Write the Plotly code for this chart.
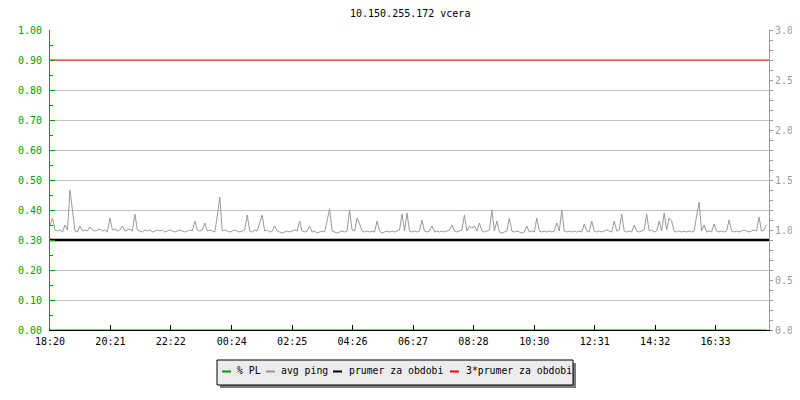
import plotly.graph_objects as go
import pandas as pd

# ---------------- data ----------------
title_text = "10.150.255.172 vcera"
start_time = "2024-01-01 18:20"
sample_minutes = 5
period_minutes = 1440

tick_labels = ["18:20", "20:21", "22:22", "00:24", "02:25", "04:26",
               "06:27", "08:28", "10:30", "12:31", "14:32", "16:33"]

# avg ping (ms), one value every 5 minutes
avg_ping = [
    # 18:20 - 20:15
    1.05, 1.12, 1.00, 0.99, 1.00, 0.98, 1.05, 1.00, 1.40, 1.18, 0.99, 0.98,
    1.04, 0.99, 1.00, 0.99, 1.03, 1.00, 0.99, 1.00, 1.01, 0.99, 1.00, 0.98,
    # 20:20 - 22:15
    1.12, 1.00, 1.01, 0.99, 1.00, 1.04, 0.99, 1.00, 1.01, 0.99, 1.16, 1.00,
    0.99, 0.98, 1.00, 0.99, 1.00, 0.98, 0.99, 1.00, 0.99, 1.00, 0.98, 0.99,
    # 22:20 - 00:15
    1.00, 0.99, 0.98, 0.99, 1.00, 0.99, 0.98, 0.99, 1.00, 0.99, 1.09, 1.00,
    0.99, 1.00, 1.07, 0.99, 1.00, 0.99, 0.98, 1.14, 1.33, 0.99, 1.00, 0.99,
    # 00:20 - 02:15
    0.98, 0.99, 1.00, 0.99, 0.98, 0.99, 1.00, 1.15, 0.99, 0.98, 1.00, 0.99,
    1.06, 1.15, 0.99, 1.00, 0.98, 0.99, 1.04, 0.99, 0.98, 0.97, 0.98, 0.99,
    # 02:20 - 04:15
    0.98, 0.99, 1.00, 0.99, 1.09, 0.99, 0.98, 0.99, 1.04, 0.98, 0.99, 0.97,
    0.98, 0.99, 0.98, 1.09, 1.21, 0.99, 0.98, 0.97, 0.98, 0.99, 0.98, 0.99,
    # 04:20 - 06:15
    1.20, 1.00, 0.99, 1.12, 1.06, 0.99, 0.98, 0.99, 0.98, 0.99, 0.98, 1.09,
    0.99, 0.97, 0.98, 0.99, 0.98, 0.99, 0.98, 0.99, 1.00, 1.16, 0.99, 1.17,
    # 06:20 - 08:15
    0.99, 0.98, 0.99, 0.98, 0.99, 1.10, 0.99, 0.98, 0.99, 1.04, 0.98, 0.99,
    0.98, 0.99, 0.98, 0.99, 1.00, 1.05, 0.99, 0.98, 0.99, 1.00, 1.15, 0.99,
    # 08:20 - 10:15
    1.04, 1.02, 1.04, 0.99, 1.07, 0.99, 0.98, 0.99, 1.00, 1.20, 0.99, 1.09,
    0.98, 0.97, 0.98, 0.99, 1.12, 0.99, 0.98, 0.99, 0.98, 0.97, 0.98, 1.04,
    # 10:20 - 12:15
    0.98, 0.99, 0.98, 1.12, 0.99, 0.98, 0.99, 0.98, 0.99, 0.98, 0.99, 1.07,
    0.99, 1.20, 0.99, 0.98, 0.99, 0.98, 0.99, 0.98, 0.99, 0.98, 1.06, 0.99,
    # 12:20 - 14:15
    0.98, 1.09, 0.99, 0.98, 0.99, 0.98, 0.99, 1.00, 0.99, 0.98, 1.09, 0.99,
    1.00, 1.16, 0.99, 0.98, 0.99, 0.98, 1.05, 0.99, 0.98, 0.99, 1.00, 1.16,
    # 14:20 - 16:15
    0.99, 1.00, 0.98, 0.99, 1.09, 0.99, 1.17, 1.00, 1.12, 1.09, 0.99, 0.98,
    0.99, 0.98, 0.99, 0.98, 0.99, 0.98, 0.99, 1.14, 1.28, 0.99, 1.05, 0.98,
    # 16:20 - 18:15
    0.99, 0.98, 1.06, 0.99, 0.98, 0.99, 0.98, 0.99, 1.10, 0.99, 0.98, 0.99,
    0.98, 0.99, 1.00, 0.99, 0.98, 0.99, 1.00, 0.99, 1.13, 0.99, 1.00, 1.05,
]
packet_loss = [0.0] * len(avg_ping)      # % PL, no loss in the period
prumer = 0.9                              # average for the period (ms)
prumer3 = 3 * prumer

series_names = ["% PL", "avg ping", "prumer za obdobi", "3*prumer za obdobi"]
series_colors = ["#00a000", "#9a9a9a", "#000000", "#ff0000"]

# ---------------- derived ----------------
t0 = pd.Timestamp(start_time)
times = pd.date_range(t0, periods=len(avg_ping), freq=f"{sample_minutes}min")
t_end = t0 + pd.Timedelta(minutes=period_minutes)

tick_vals = []
day = 0
prev = None
for lab in tick_labels:
    hh, mm = map(int, lab.split(":"))
    if prev is not None and hh * 60 + mm < prev:
        day += 1
    prev = hh * 60 + mm
    tick_vals.append(t0.normalize() + pd.Timedelta(days=day, hours=hh, minutes=mm))

FONT = "DejaVu Sans Mono"
OFF = 8                      # page body margin
W, H = 800 - OFF, 400 - OFF
PL_, PR_, PT_, PB_ = 50, 769, 30, 330   # plot area in page pixels
L, T = PL_ - OFF, PT_ - OFF
R, B = W - (PR_ - OFF), H - (PB_ - OFF)
PW, PH = W - L - R, H - T - B


def px(x):
    return (x - OFF - L) / PW


def py(y):
    return ((PB_ - OFF) - (y - OFF)) / PH


fig = go.Figure()

fig.add_trace(go.Scatter(x=times, y=packet_loss, mode="lines", yaxis="y",
                         line=dict(color=series_colors[0], width=1),
                         name=series_names[0], showlegend=False, hoverinfo="skip"))
fig.add_trace(go.Scatter(x=times, y=avg_ping, mode="lines", yaxis="y2",
                         line=dict(color=series_colors[1], width=1),
                         name=series_names[1], showlegend=False))
fig.add_trace(go.Scatter(x=[t0, t_end], y=[prumer, prumer], mode="lines", yaxis="y2",
                         line=dict(color=series_colors[2], width=2.5),
                         name=series_names[2], showlegend=False))
fig.add_trace(go.Scatter(x=[t0, t_end], y=[prumer3, prumer3], mode="lines", yaxis="y2",
                         line=dict(color=series_colors[3], width=1),
                         name=series_names[3], showlegend=False))

# ---------------- custom legend ----------------
shapes = []
annotations = []
box_l, box_r, box_t, box_b = 217, 573, 360, 385
shapes.append(dict(type="rect", xref="paper", yref="paper", layer="above",
                   x0=px(box_l + 3), x1=px(box_r + 3), y0=py(box_b + 3), y1=py(box_t + 3),
                   fillcolor="#7a7a7a", line=dict(width=0)))
shapes.append(dict(type="rect", xref="paper", yref="paper", layer="above",
                   x0=px(box_l), x1=px(box_r), y0=py(box_b), y1=py(box_t),
                   fillcolor="#ececec", line=dict(color="#000000", width=1)))
item_line_x = [222, 266, 333, 450]
item_text_x = [236, 280, 348, 465]
for name, col, lx, tx in zip(series_names, series_colors, item_line_x, item_text_x):
    shapes.append(dict(type="line", xref="paper", yref="paper", layer="above",
                       x0=px(lx), x1=px(lx + 9), y0=py(371.5), y1=py(371.5),
                       line=dict(color=col, width=2)))
    annotations.append(dict(xref="paper", yref="paper", x=px(tx - 1), y=py(370.5),
                            xanchor="left", yanchor="middle", showarrow=False,
                            text=name, font=dict(family=FONT, size=9.8, color="#000000")))

annotations.append(dict(xref="paper", yref="paper", x=0.5, y=py(13),
                        xanchor="center", yanchor="middle", showarrow=False,
                        text=title_text, font=dict(family=FONT, size=10, color="#000000")))

fig.update_layout(
    width=W, height=H,
    margin=dict(l=L, r=R, t=T, b=B, pad=0, autoexpand=False),
    paper_bgcolor="#ffffff", plot_bgcolor="#ffffff",
    font=dict(family=FONT, size=10, color="#000000"),
    showlegend=False,
    shapes=shapes,
    annotations=annotations,
    xaxis=dict(type="date", range=[t0, t_end], tickmode="array",
               tickvals=tick_vals, ticktext=tick_labels, automargin=False,
               ticks="inside", ticklen=5, tickcolor="#000000",
               showline=True, linecolor="#000000", linewidth=1,
               showgrid=False, zeroline=False, ticklabelstandoff=2,
               tickfont=dict(family=FONT, size=10, color="#000000")),
    yaxis=dict(range=[0, 1], dtick=0.1, tick0=0, tickformat=".2f", automargin=False,
               ticks="inside", ticklen=5, tickcolor="#00a000",
               minor=dict(dtick=0.05, ticks="inside", ticklen=3, tickcolor="#00a000", showgrid=False),
               showline=True, linecolor="#00a000", linewidth=1,
               showgrid=True, gridcolor="#c4c4c4", gridwidth=1, zeroline=False,
               ticklabelstandoff=5,
               tickfont=dict(family=FONT, size=10, color="#00a000")),
    yaxis2=dict(range=[0, 3], dtick=0.5, tick0=0, tickformat=".1f", automargin=False,
                overlaying="y", side="right",
                ticks="outside", ticklen=3, tickcolor="#9a9a9a",
                minor=dict(dtick=0.1, ticks="outside", ticklen=3, tickcolor="#9a9a9a", showgrid=False),
                showline=True, linecolor="#9a9a9a", linewidth=1,
                showgrid=False, zeroline=False,
                tickfont=dict(family=FONT, size=10, color="#9a9a9a")),
)

fig.write_html("out.html")
